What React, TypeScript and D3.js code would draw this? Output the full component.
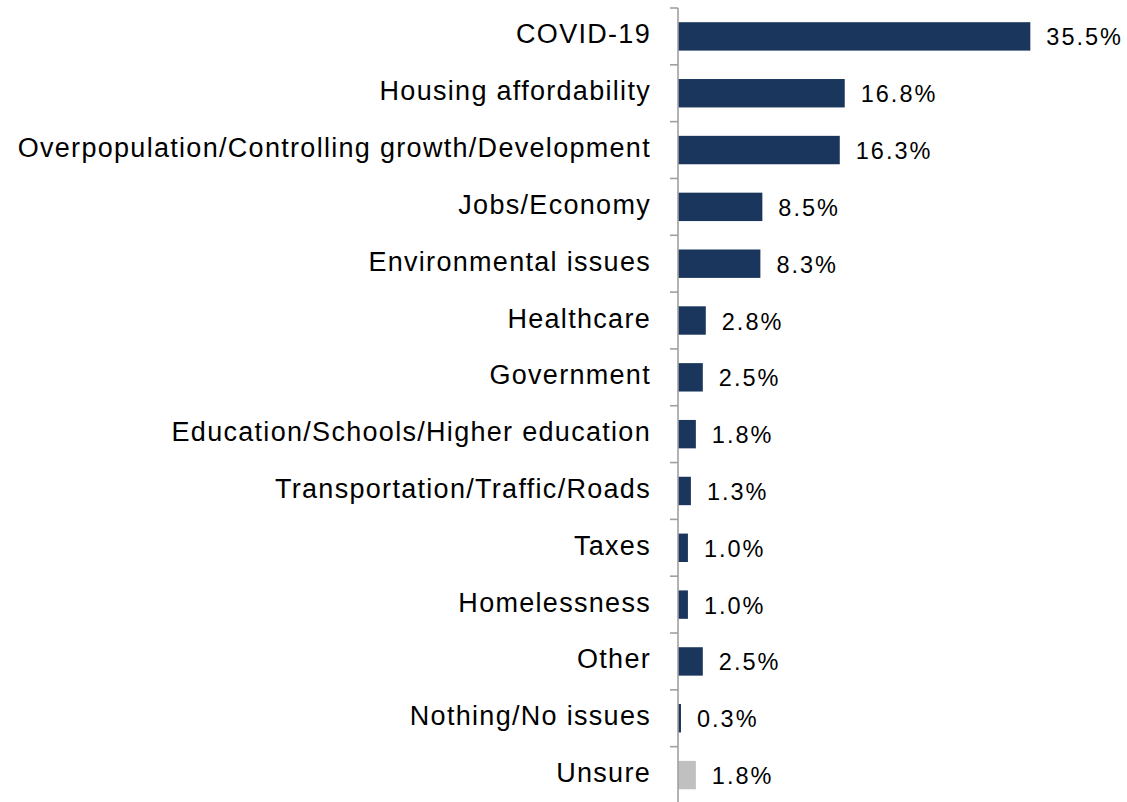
import React from "react";
import { scaleLinear, scaleBand } from "d3";

const categories = [
  "COVID-19",
  "Housing affordability",
  "Overpopulation/Controlling growth/Development",
  "Jobs/Economy",
  "Environmental issues",
  "Healthcare",
  "Government",
  "Education/Schools/Higher education",
  "Transportation/Traffic/Roads",
  "Taxes",
  "Homelessness",
  "Other",
  "Nothing/No issues",
  "Unsure",
];
const values = [35.5, 16.8, 16.3, 8.5, 8.3, 2.8, 2.5, 1.8, 1.3, 1.0, 1.0, 2.5, 0.3, 1.8];
const grayCategories = ["Unsure"];

const width = 1127;
const height = 802;
const axisX = 678;
const top = 8;
const step = 56.82;

export default function App() {
  const xScale = scaleLinear().domain([0, 40]).range([axisX, axisX + 397]);
  const yScale = scaleBand()
    .domain(categories)
    .range([top, top + step * categories.length])
    .paddingInner(0.5)
    .paddingOuter(0.25);

  const font = "'Liberation Sans', Arial, Helvetica, sans-serif";

  const bars = categories.map((cat, i) => {
    const y = yScale(cat) as number;
    const h = yScale.bandwidth();
    const cy = y + h / 2;
    return (
      <g key={cat}>
        <rect
          x={xScale(0)}
          y={y}
          width={xScale(values[i]) - xScale(0)}
          height={h}
          fill={grayCategories.includes(cat) ? "#c0c0c0" : "#1b365d"}
        />
        <text
          x={651}
          y={cy + 7}
          textAnchor="end"
          fontSize={27}
          letterSpacing={1.3}
          fill="#000"
        >
          {cat}
        </text>
        <text
          x={xScale(values[i]) + 16}
          y={cy + 9}
          fontSize={23.5}
          letterSpacing={2}
          fill="#000"
        >
          {values[i].toFixed(1)}%
        </text>
      </g>
    );
  });

  const boundaries = categories.map((_, i) => top + step * i).concat([top + step * categories.length]);

  return (
    <div style={{ position: "absolute", left: 0, top: 0 }}>
      <svg width={width} height={height} style={{ display: "block", fontFamily: font }}>
        <rect width={width} height={height} fill="#fff" />
        {bars}
        <line x1={axisX} x2={axisX} y1={top} y2={height + 10} stroke="#a0a0a0" strokeWidth={1.6} />
        {boundaries.map((b) => (
          <line key={b} x1={axisX - 8} x2={axisX} y1={b} y2={b} stroke="#a0a0a0" strokeWidth={1.6} />
        ))}
      </svg>
    </div>
  );
}
